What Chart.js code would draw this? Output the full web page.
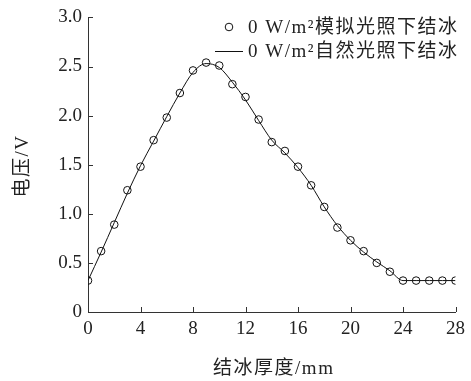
<!DOCTYPE html>
<html><head><meta charset="utf-8">
<script src="https://cdn.jsdelivr.net/npm/chart.js@4"></script>
<style>html,body{margin:0;padding:0;background:#fff}#w{width:471px;height:381px}</style>
</head><body><div id="w"><canvas id="c"></canvas></div>
<script>
const thickness = [0,1,2,3,4,5,6,7,8,9,10,11,12,13,14,15,16,17,18,19,20,21,22,23,24,25,26,27,28];
const simulatedVoltage = [0.32,0.62,0.89,1.24,1.48,1.75,1.98,2.23,2.46,2.54,2.51,2.32,2.19,1.96,1.73,1.64,1.48,1.29,1.07,0.86,0.73,0.62,0.50,0.41,0.32,0.32,0.32,0.32,0.32];
const naturalVoltage = [0.32,0.61,0.91,1.21,1.49,1.74,1.99,2.23,2.44,2.53,2.49,2.34,2.16,1.95,1.75,1.62,1.47,1.29,1.07,0.88,0.73,0.61,0.51,0.42,0.32,0.32,0.32,0.32,0.32];
const xTicks = [0,4,8,12,16,20,24,28];
const yTicks = [0,0.5,1.0,1.5,2.0,2.5,3.0];
const seriesLabels = ['0 W/m²模拟光照下结冰','0 W/m²自然光照下结冰'];
const xTitle = '结冰厚度/mm';
const yTitle = '电压/V';

const FONT = "'Liberation Serif','Noto Sans CJK SC',serif";
const AX = '#333';
const TXT = '#222';

const decor = {
  id: 'decor',
  afterDraw(chart) {
    const ctx = chart.ctx, xs = chart.scales.x, ys = chart.scales.y;
    ctx.save();
    ctx.strokeStyle = AX; ctx.lineWidth = 1;
    ctx.beginPath();
    xTicks.forEach(v => { const p = Math.round(xs.getPixelForValue(v)) + 0.5; ctx.moveTo(p, ys.bottom); ctx.lineTo(p, ys.bottom - 5); });
    yTicks.forEach(v => { const p = Math.round(ys.getPixelForValue(v)) + 0.5; ctx.moveTo(xs.left, p); ctx.lineTo(xs.left + 5, p); });
    ctx.stroke();
    ctx.font = '19px ' + FONT;
    ctx.fillStyle = TXT;
    ctx.textBaseline = 'middle';
    ctx.letterSpacing = '1.5px';
    // legend
    ctx.strokeStyle = '#111';
    ctx.beginPath(); ctx.arc(229, 27, 3.8, 0, Math.PI*2); ctx.stroke();
    ctx.textAlign = 'left';
    ctx.fillText(chart.data.datasets[0].label, 248, 28);
    ctx.beginPath(); ctx.moveTo(215, 51.5); ctx.lineTo(243, 51.5); ctx.stroke();
    ctx.fillText(chart.data.datasets[1].label, 248, 52);
    // axis titles
    ctx.textAlign = 'center';
    ctx.fillText(xTitle, (xs.left + xs.right) / 2 + 2, 369);
    ctx.translate(23, 166);
    ctx.rotate(-Math.PI / 2);
    ctx.fillText(yTitle, 0, 0);
    ctx.restore();
  }
};

new Chart(document.getElementById('c'), {
  type: 'scatter',
  data: {
    datasets: [
      { label: seriesLabels[0], data: thickness.map((x,i)=>({x, y: simulatedVoltage[i]})),
        showLine: false, pointRadius: 3.8, pointBorderWidth: 1, pointBorderColor: '#111', pointBackgroundColor: 'rgba(255,255,255,0)', order: 1 },
      { label: seriesLabels[1], data: thickness.map((x,i)=>({x, y: naturalVoltage[i]})),
        showLine: true, pointRadius: 0, borderColor: '#111', borderWidth: 1, cubicInterpolationMode: 'monotone', fill: false, order: 2 }
    ]
  },
  plugins: [decor],
  options: {
    responsive: true, maintainAspectRatio: false, animation: false,
    layout: { padding: { top: 15, right: 15, left: 0, bottom: 0 } },
    plugins: { legend: { display: false }, tooltip: { enabled: false } },
    scales: {
      x: {
        type: 'linear', min: 0, max: 28,
        afterBuildTicks: s => { s.ticks = xTicks.map(v => ({value: v})); },
        afterFit: s => { s.height = 69; },
        grid: { display: false, drawTicks: false },
        border: { display: true, color: AX, width: 1 },
        ticks: { padding: 6, color: TXT, font: { family: FONT, size: 19 }, maxRotation: 0 },
        title: { display: false }
      },
      y: {
        type: 'linear', min: 0, max: 3,
        afterBuildTicks: s => { s.ticks = yTicks.map(v => ({value: v})); },
        afterFit: s => { s.width = 88; },
        grid: { display: false, drawTicks: false },
        border: { display: true, color: AX, width: 1 },
        ticks: { padding: 6, color: TXT, font: { family: FONT, size: 19 }, callback: v => v === 0 ? '0' : v.toFixed(1) },
        title: { display: false }
      }
    }
  }
});
</script></body></html>
